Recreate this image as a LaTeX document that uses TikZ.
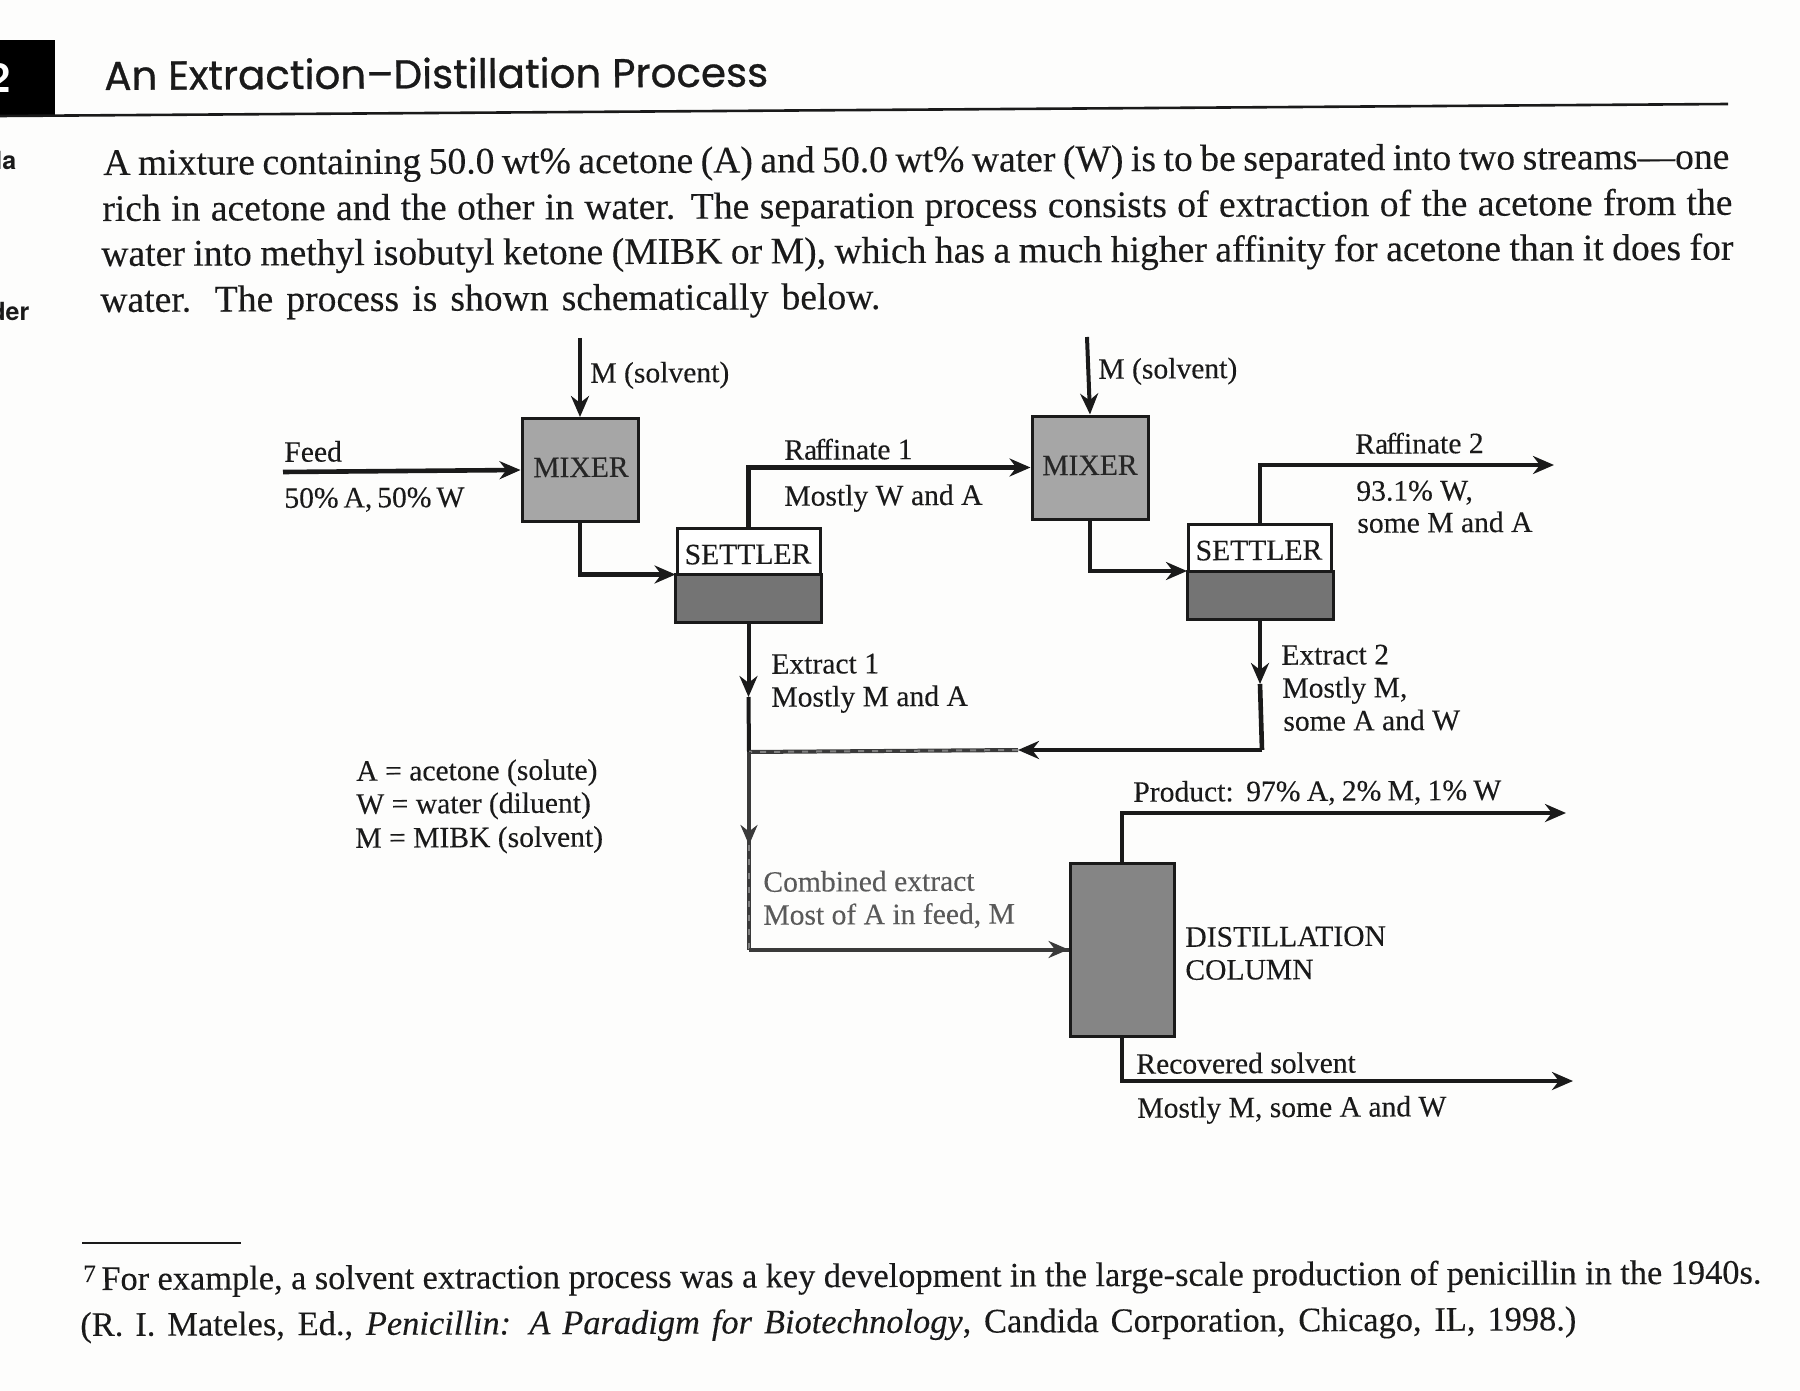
\documentclass[tikz,border=0pt]{standalone}
\usepackage{fontspec}
\usetikzlibrary{arrows.meta,calc}
\setmainfont[FakeBold=0.2]{Liberation Serif}
\newfontfamily\ttlfont[FakeBold=0.7]{Poppins}
\newfontfamily\sidefont{TeX Gyre Heros}
\newcommand{\fitbox}[2]{\makebox[#1pt][s]{#2}}
\definecolor{ink}{HTML}{1A1A1A}
\definecolor{paper}{HTML}{FDFDFC}
\definecolor{mixgray}{HTML}{A6A6A6}
\definecolor{setgray}{HTML}{747474}
\definecolor{colgray}{HTML}{858585}
\definecolor{noisy}{HTML}{3A3A3A}
\definecolor{fadedtext}{HTML}{5A5A5A}
\tikzset{
  body/.style={inner sep=0pt,anchor=base west,rotate=0.22,text=ink,font=\fontsize{18.8}{21}\selectfont},
  foot/.style={inner sep=0pt,anchor=base west,rotate=0.22,text=ink,yshift=-1pt,font=\fontsize{17.2}{19}\selectfont},
  lab/.style={inner sep=0pt,anchor=base west,rotate=0.3,text=ink,yshift=-0.4pt,font=\fontsize{14.8}{16}\selectfont},
  boxlab/.style={inner sep=0pt,anchor=base,rotate=0.3,text=ink,font=\fontsize{14.8}{16}\selectfont},
  mixerbox/.style={draw=ink,fill=mixgray,line width=1.5pt,minimum width=58pt,minimum height=51.5pt,inner sep=0pt},
  settlerbox/.style={draw=ink,fill=white,line width=1.5pt,minimum width=71.5pt,minimum height=46.5pt,inner sep=0pt},
  colbox/.style={draw=ink,fill=colgray,line width=1.5pt,minimum width=52pt,minimum height=86.5pt,inner sep=0pt},
  pipe/.style={draw=ink,line width=2.3pt,line join=miter},
  flow/.style={pipe,-{Stealth[length=10.5pt,width=9pt]}},
  thinflow/.style={draw=ink,line width=2pt,-{Stealth[length=10.5pt,width=9pt]}},
  noisypipe/.style={draw=noisy,line width=2pt,postaction={draw=black!50,line width=1pt,dash pattern=on 3pt off 4pt}},
  noisyflow/.style={draw=noisy,line width=2pt,-{Stealth[length=10pt,width=8.5pt]}},
}
\begin{document}
\begin{tikzpicture}[x=0.5pt,y=-0.5pt]
\useasboundingbox (0,0) rectangle (1800,1391);
\clip (0,0) rectangle (1800,1391);
\fill[paper] (0,0) rectangle (1800,1391);

% header
\fill[black] (0,40) rectangle (55,117);
\node[inner sep=0pt,anchor=base east,text=white,font=\sidefont\bfseries\fontsize{20}{22}\selectfont] (chapnum) at (11,93) {2};
\coordinate (ruleL) at (0,116);
\coordinate (ruleR) at (1728,104);
\draw[ink,line width=1.3pt] (ruleL) -- (ruleR);
\node[inner sep=0pt,anchor=base west,rotate=0.3,text=ink,font=\ttlfont\fontsize{20.2}{22}\selectfont] (title) at (104,90) {An Extraction–Distillation Process};
\node[inner sep=0pt,anchor=base west,text=ink,font=\sidefont\bfseries\fontsize{12.5}{14}\selectfont] (sideA) at (-5,170) {la};
\node[inner sep=0pt,anchor=base west,text=ink,font=\sidefont\bfseries\fontsize{12.5}{14}\selectfont] (sideB) at (-10,321) {der};

% paragraph
\node[body] (p1) at (103,175) {\fitbox{813}{A mixture containing 50.0 wt\% acetone (A) and 50.0 wt\% water (W) is to be separated into two streams—one}};
\node[body] (p2) at (102,221) {\fitbox{815}{rich in acetone and the other in water. The separation process consists of extraction of the acetone from the}};
\node[body] (p3) at (101,266) {\fitbox{816}{water into methyl isobutyl ketone (MIBK or M), which has a much higher affinity for acetone than it does for}};
\node[body] (p4) at (100,312) {\fitbox{390}{water. The process is shown schematically below.}};

% units
\node[mixerbox] (mixA) at (580,470) {};
\node[mixerbox] (mixB) at (1090,467.5) {};
\node[settlerbox] (setA) at (748.5,574.5) {};
\node[settlerbox] (setB) at (1260,571) {};
\node[colbox] (col) at (1122,949.5) {};
\fill[setgray,draw=ink,line width=1.5pt] (setA.west) rectangle (setA.south east);
\fill[setgray,draw=ink,line width=1.5pt] (setB.west) rectangle (setB.south east);

% free ends
\coordinate (solvA) at (580,338);
\coordinate (solvB) at (1087,337);
\coordinate (feedIn) at (283,472);
\coordinate (raffOut) at (1554,465);
\coordinate (prodOut) at (1566,813);
\coordinate (recOut) at (1573,1081);
\coordinate (ext1tip) at (748.5,697);
\coordinate (ext2tip) at (1260,684);
\coordinate (ext2corner) at (1262,750);
\coordinate (ext2head) at (1018,750);
\coordinate (junction) at (749,752);
\coordinate (combtip) at (749,845);
\coordinate (combcorner) at (749,949.5);

% connectors
\draw[thinflow] (solvA) -- (mixA.north);
\draw[thinflow] (solvB) -- (mixB.north);
\draw[flow] (feedIn) -- (mixA.west);
\draw[flow] (mixA.south) |- (setA.west);
\draw[flow] (setA.north) |- (mixB.west);
\draw[flow] (mixB.south) |- (setB.west);
\draw[flow] (setB.north) |- (raffOut);
\draw[thinflow] (setA.south) -- (ext1tip);
\draw[pipe,line width=2pt] (ext1tip) -- (junction);
\draw[thinflow] (setB.south) -- (ext2tip);
\draw[pipe] (ext2tip) -- (ext2corner);
\draw[flow] (ext2corner) -- (ext2head);
\draw[noisypipe] (ext2head) -- (junction);
\draw[noisypipe] (junction) -- (combtip);
\draw[noisyflow] (junction) -- (combtip);
\draw[noisypipe] (combtip) -- (combcorner);
\draw[noisypipe] (combcorner) -- (col.west);
\draw[noisyflow] (combcorner) -- (col.west);
\draw[flow] (col.north) |- (prodOut);
\draw[flow] (col.south) |- (recOut);

% box labels
\node[boxlab,text=black!85] (tm1) at (581,477) {MIXER};
\node[boxlab,text=black!85] (tm2) at (1090,475) {MIXER};
\node[boxlab] (ts1) at (748,564) {SETTLER};
\node[boxlab] (ts2) at (1259,560) {SETTLER};

% stream labels
\node[lab] (l1) at (590,382) {M (solvent)};
\node[lab] (l2) at (1098,378) {M (solvent)};
\node[lab] (l3) at (284,461) {Feed};
\node[lab] (l4) at (284,507) {\fitbox{89}{50\% A, 50\% W}};
\node[lab] (l5) at (784,459) {Ra\kern-1pt f\kern-1pt finate 1};
\node[lab] (l6) at (784,505) {Mostly W and A};
\node[lab] (l7) at (771,673) {Extract 1};
\node[lab] (l8) at (771,706) {Mostly M and A};
\node[lab] (l9) at (1355,453) {Ra\kern-1pt f\kern-1pt finate 2};
\node[lab] (l10) at (1356,500) {93.1\% W,};
\node[lab] (l11) at (1357,532) {some M and A};
\node[lab] (l12) at (1281,664) {Extract 2};
\node[lab] (l13) at (1282,697) {Mostly M,};
\node[lab] (l14) at (1283,730) {some A and W};
\node[lab] (l15) at (356,780) {A = acetone (solute)};
\node[lab] (l16) at (356,813) {W = water (diluent)};
\node[lab] (l17) at (355,847) {M = MIBK (solvent)};
\node[lab,text=fadedtext] (l18) at (763,891) {Combined extract};
\node[lab,text=fadedtext] (l19) at (763,924) {Most of A in feed, M};
\node[lab] (l20) at (1133,801) {\fitbox{184}{Product:\ \ 97\% A, 2\% M, 1\% W}};
\node[lab] (l21) at (1185,946) {DISTILLATION};
\node[lab] (l22) at (1185,979) {COLUMN};
\node[lab] (l23) at (1136,1073) {Recovered solvent};
\node[lab] (l24) at (1137,1117) {Mostly M, some A and W};

% footnote
\coordinate (fnL) at (82,1243);
\coordinate (fnR) at (241,1243);
\draw[ink,line width=1.1pt] (fnL) -- (fnR);
\node[foot] (f0) at (83,1280) {\fontsize{12.5}{14}\selectfont 7};
\node[foot] (f1) at (101,1288) {\fitbox{830}{For example, a solvent extraction process was a key development in the large-scale production of penicillin in the 1940s.}};
\node[foot] (f2) at (80,1334) {\fitbox{748}{(R. I. Mateles, Ed., \textit{Penicillin: A Paradigm for Biotechnology}, Candida Corporation, Chicago, IL, 1998.)}};
\end{tikzpicture}
\end{document}
